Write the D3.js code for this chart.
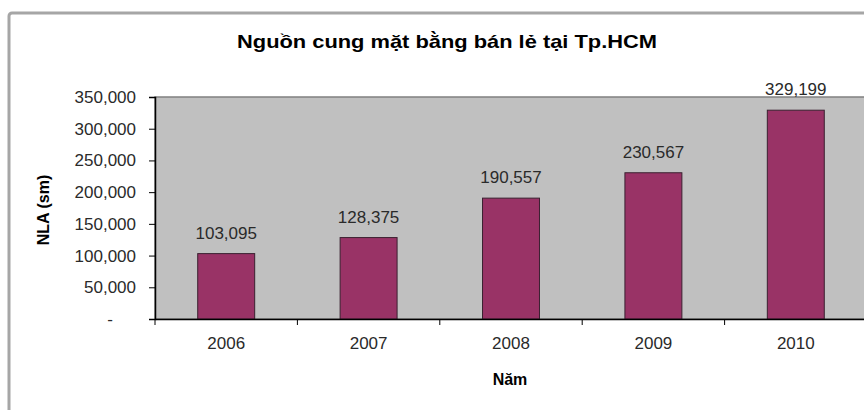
<!DOCTYPE html>
<html lang="vi">
<head>
    <meta charset="UTF-8">
    <title>Nguồn cung mặt bằng bán lẻ tại Tp.HCM</title>
    <script src="https://d3js.org/d3.v7.min.js"></script>
    <style>
        body { margin: 0; background: #fff; }
        text { font-family: "Liberation Sans", Arial, sans-serif; }
    </style>
</head>
<body>
    <div id="chart"></div>
    <script>
        // Data
        var years = ["2006", "2007", "2008", "2009", "2010"];
        var supply = [103095, 128375, 190557, 230567, 329199];
        var yTicks = [0, 50000, 100000, 150000, 200000, 250000, 300000, 350000];

        var width = 864, height = 410;
        var plot = { left: 155, top: 97, right: 867, bottom: 319 };

        var svg = d3.select("#chart").append("svg")
            .attr("width", width)
            .attr("height", height);

        // outer chart border (runs off the picture on right and bottom)
        svg.append("rect")
            .attr("x", 9).attr("y", 13)
            .attr("width", 900).attr("height", 450)
            .attr("rx", 3)
            .attr("fill", "#fff")
            .attr("stroke", "#a6a6a6")
            .attr("stroke-width", 3);

        var x = d3.scaleBand()
            .domain(years)
            .range([plot.left, plot.right])
            .paddingInner(0.6)
            .paddingOuter(0.3);

        var y = d3.scaleLinear()
            .domain([0, 350000])
            .range([plot.bottom, plot.top]);

        // plot area
        svg.append("rect")
            .attr("x", plot.left).attr("y", plot.top)
            .attr("width", plot.right - plot.left)
            .attr("height", plot.bottom - plot.top)
            .attr("fill", "#c0c0c0")
            .attr("stroke", "#808080")
            .attr("stroke-width", 1.5);

        // bars
        svg.selectAll("rect.bar")
            .data(supply)
            .enter().append("rect")
            .attr("class", "bar")
            .attr("x", (d, i) => x(years[i]))
            .attr("width", x.bandwidth())
            .attr("y", d => y(d))
            .attr("height", d => y(0) - y(d))
            .attr("fill", "#993366")
            .attr("stroke", "#3a2030")
            .attr("stroke-width", 1);

        // value labels
        svg.selectAll("text.val")
            .data(supply)
            .enter().append("text")
            .attr("class", "val")
            .attr("x", (d, i) => x(years[i]) + x.bandwidth() / 2)
            .attr("y", d => y(d) - 15)
            .attr("text-anchor", "middle")
            .attr("font-size", 17)
            .attr("fill", "#2a2a2a")
            .text(d => d3.format(",")(d));

        // y axis
        var yAxis = d3.axisLeft(y)
            .tickValues(yTicks)
            .tickSize(6)
            .tickFormat(d => d === 0 ? "-" : d3.format(",")(d));
        var gy = svg.append("g")
            .attr("transform", "translate(" + plot.left + ",0)")
            .call(yAxis);
        gy.select(".domain").attr("stroke", "#000").attr("stroke-width", 1.5);
        gy.selectAll(".tick line").attr("stroke", "#000");
        gy.selectAll(".tick text")
            .attr("x", -19)
            .attr("font-size", 17)
            .attr("font-family", "Liberation Sans, Arial, sans-serif")
            .attr("fill", "#2a2a2a");
        gy.selectAll(".tick").filter(d => d === 0).select("text").attr("x", -42);

        // x axis with tick marks between categories
        var xAxis = d3.axisBottom(x).tickSize(0).tickPadding(18);
        var gx = svg.append("g")
            .attr("transform", "translate(0," + plot.bottom + ")")
            .call(xAxis);
        gx.select(".domain").attr("stroke", "#000").attr("stroke-width", 1.5);
        gx.selectAll(".tick text")
            .attr("font-size", 17)
            .attr("font-family", "Liberation Sans, Arial, sans-serif")
            .attr("fill", "#2a2a2a");
        gx.selectAll("line.sep")
            .data(d3.range(years.length + 1))
            .enter().append("line")
            .attr("class", "sep")
            .attr("x1", i => plot.left + i * (plot.right - plot.left) / years.length)
            .attr("x2", i => plot.left + i * (plot.right - plot.left) / years.length)
            .attr("y1", 0).attr("y2", 6)
            .attr("stroke", "#000");

        // titles
        svg.append("text")
            .attr("x", 447).attr("y", 48)
            .attr("text-anchor", "middle")
            .attr("font-size", 19)
            .attr("font-weight", "bold")
            .attr("textLength", 420)
            .attr("lengthAdjust", "spacingAndGlyphs")
            .text("Nguồn cung mặt bằng bán lẻ tại Tp.HCM");

        svg.append("text")
            .attr("transform", "translate(49,210) rotate(-90)")
            .attr("text-anchor", "middle")
            .attr("font-size", 16)
            .attr("font-weight", "bold")
            .text("NLA (sm)");

        svg.append("text")
            .attr("x", 510).attr("y", 385)
            .attr("text-anchor", "middle")
            .attr("font-size", 16)
            .attr("font-weight", "bold")
            .text("Năm");
    </script>
</body>
</html>
